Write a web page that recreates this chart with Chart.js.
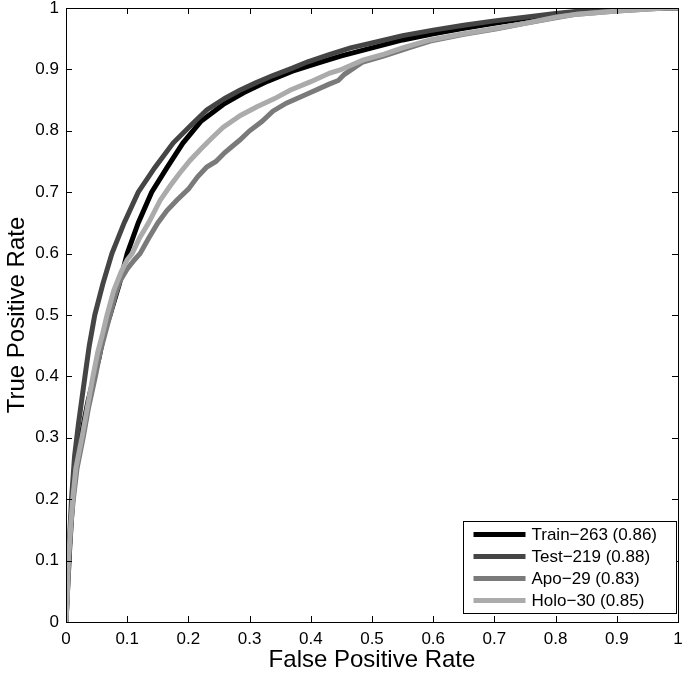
<!DOCTYPE html>
<html lang="en">
<head>
    <meta charset="UTF-8">
    <title>ROC curves</title>
    <script src="https://cdn.jsdelivr.net/npm/chart.js"></script>
    <style>
        body {
            margin: 0;
            padding: 0;
            background-color: #ffffff;
        }
        .container {
            width: 683px;
            height: 675px;
        }
    </style>
</head>
<body>
    <div class="container">
        <canvas id="myChart" width="683" height="675"></canvas>
    </div>

    <script>
        // series (false positive rate / true positive rate)
        var seriesNames = ['Train\u2212263 (0.86)', 'Test\u2212219 (0.88)', 'Apo\u221229 (0.83)', 'Holo\u221230 (0.85)'];
        var seriesColors = ['#000000', '#454545', '#7a7a7a', '#ababab'];

        var trainFpr = [0, 0.003, 0.006, 0.011, 0.017, 0.026, 0.036, 0.046, 0.054, 0.062, 0.072, 0.087, 0.1, 0.118, 0.14, 0.165, 0.191, 0.22, 0.257, 0.29, 0.33, 0.37, 0.41, 0.45, 0.5, 0.55, 0.6, 0.65, 0.7, 0.75, 0.8, 0.85, 0.9, 1];
        var trainTpr = [0, 0.06, 0.12, 0.2, 0.26, 0.31, 0.36, 0.4, 0.43, 0.47, 0.5, 0.55, 0.6, 0.65, 0.7, 0.74, 0.78, 0.815, 0.843, 0.862, 0.881, 0.897, 0.91, 0.922, 0.935, 0.948, 0.958, 0.967, 0.975, 0.983, 0.99, 0.995, 1, 1];

        var testFpr = [0, 0.002, 0.005, 0.009, 0.014, 0.02, 0.031, 0.038, 0.047, 0.06, 0.075, 0.095, 0.118, 0.145, 0.175, 0.205, 0.23, 0.26, 0.284, 0.31, 0.338, 0.37, 0.394, 0.43, 0.465, 0.5, 0.55, 0.6, 0.65, 0.7, 0.75, 0.8, 0.85, 0.89, 1];
        var testTpr = [0, 0.06, 0.12, 0.2, 0.27, 0.32, 0.4, 0.45, 0.5, 0.55, 0.6, 0.65, 0.7, 0.74, 0.78, 0.81, 0.834, 0.853, 0.866, 0.878, 0.89, 0.902, 0.912, 0.924, 0.935, 0.943, 0.955, 0.964, 0.972, 0.979, 0.985, 0.991, 0.996, 1, 1];

        var apoFpr = [0, 0.002, 0.004, 0.008, 0.012, 0.018, 0.028, 0.037, 0.048, 0.056, 0.064, 0.072, 0.08, 0.088, 0.1, 0.112, 0.121, 0.135, 0.15, 0.165, 0.181, 0.2, 0.215, 0.23, 0.245, 0.26, 0.284, 0.3, 0.32, 0.338, 0.36, 0.394, 0.43, 0.445, 0.455, 0.47, 0.485, 0.52, 0.56, 0.595, 0.65, 0.704, 0.75, 0.8, 0.835, 0.9, 0.98, 1];
        var apoTpr = [0, 0.04, 0.1, 0.16, 0.2, 0.25, 0.3, 0.35, 0.4, 0.44, 0.47, 0.5, 0.53, 0.555, 0.575, 0.59, 0.6, 0.625, 0.65, 0.67, 0.687, 0.705, 0.725, 0.741, 0.75, 0.765, 0.785, 0.8, 0.815, 0.832, 0.845, 0.86, 0.876, 0.882, 0.892, 0.902, 0.912, 0.922, 0.935, 0.946, 0.957, 0.966, 0.975, 0.984, 0.99, 0.995, 1, 1];

        var holoFpr = [0, 0.002, 0.004, 0.008, 0.011, 0.016, 0.026, 0.035, 0.044, 0.052, 0.06, 0.067, 0.078, 0.09, 0.1, 0.108, 0.12, 0.135, 0.154, 0.17, 0.185, 0.203, 0.22, 0.24, 0.257, 0.285, 0.312, 0.34, 0.366, 0.4, 0.431, 0.448, 0.485, 0.52, 0.55, 0.595, 0.65, 0.704, 0.75, 0.8, 0.835, 0.9, 0.98, 1];
        var holoTpr = [0, 0.04, 0.1, 0.16, 0.2, 0.25, 0.3, 0.35, 0.4, 0.44, 0.47, 0.5, 0.54, 0.57, 0.59, 0.6, 0.625, 0.65, 0.687, 0.71, 0.73, 0.752, 0.77, 0.79, 0.806, 0.825, 0.839, 0.852, 0.866, 0.88, 0.894, 0.899, 0.915, 0.925, 0.935, 0.948, 0.958, 0.967, 0.975, 0.985, 0.99, 0.995, 1, 1];

        var xTickLabels = ['0', '0.1', '0.2', '0.3', '0.4', '0.5', '0.6', '0.7', '0.8', '0.9', '1'];
        var yTickLabels = ['0', '0.1', '0.2', '0.3', '0.4', '0.5', '0.6', '0.7', '0.8', '0.9', '1'];

        function toPoints(xs, ys) {
            var pts = [];
            for (var i = 0; i < xs.length; i++) {
                pts.push({ x: xs[i], y: ys[i] });
            }
            return pts;
        }

        var allFpr = [trainFpr, testFpr, apoFpr, holoFpr];
        var allTpr = [trainTpr, testTpr, apoTpr, holoTpr];
        var datasets = [];
        for (var k = 0; k < seriesNames.length; k++) {
            datasets.push({
                label: seriesNames[k],
                data: toPoints(allFpr[k], allTpr[k]),
                showLine: true,
                borderColor: seriesColors[k],
                backgroundColor: seriesColors[k],
                borderWidth: 5,
                pointRadius: 0,
                tension: 0,
                order: seriesNames.length - k
            });
        }

        // box, inward ticks on all four sides and the legend inside the axes
        var matlabBox = {
            id: 'matlabBox',
            afterDatasetsDraw: function(chart) {
                var ctx = chart.ctx;
                var a = chart.chartArea;
                var xs = chart.scales.x, ys = chart.scales.y;
                ctx.save();
                ctx.strokeStyle = '#000';
                ctx.lineWidth = 1;
                ctx.beginPath();
                xs.ticks.forEach(function(t) {
                    var px = Math.round(xs.getPixelForValue(t.value)) + 0.5;
                    ctx.moveTo(px, a.bottom); ctx.lineTo(px, a.bottom - 6);
                    ctx.moveTo(px, a.top); ctx.lineTo(px, a.top + 6);
                });
                ys.ticks.forEach(function(t) {
                    var py = Math.round(ys.getPixelForValue(t.value)) + 0.5;
                    ctx.moveTo(a.left, py); ctx.lineTo(a.left + 6, py);
                    ctx.moveTo(a.right, py); ctx.lineTo(a.right - 6, py);
                });
                ctx.stroke();
                ctx.strokeRect(Math.round(a.left) + 0.5, Math.round(a.top) + 0.5,
                    Math.round(a.right - a.left), Math.round(a.bottom - a.top));

                // legend
                var lw = 213, lh = 92;
                var lx = Math.round(a.right) - 215 + 0.5, ly = Math.round(a.bottom) - 101 + 0.5;
                ctx.fillStyle = '#fff';
                ctx.fillRect(lx, ly, lw, lh);
                ctx.strokeRect(lx, ly, lw, lh);
                ctx.font = '17px "Liberation Sans", Arial, sans-serif';
                ctx.textBaseline = 'middle';
                chart.data.datasets.forEach(function(ds, i) {
                    var rowY = ly + 13 + i * 22;
                    ctx.strokeStyle = ds.borderColor;
                    ctx.lineWidth = 5;
                    ctx.beginPath();
                    ctx.moveTo(lx + 10, rowY);
                    ctx.lineTo(lx + 62, rowY);
                    ctx.stroke();
                    ctx.fillStyle = '#000';
                    ctx.fillText(ds.label, lx + 68, rowY + 1);
                });
                ctx.restore();
            }
        };

        var ctx = document.getElementById('myChart').getContext('2d');
        var myChart = new Chart(ctx, {
            type: 'scatter',
            data: { datasets: datasets },
            options: {
                responsive: false,
                animation: false,
                layout: { padding: { top: 8, right: 5, left: 0, bottom: 0 } },
                plugins: {
                    legend: { display: false },
                    tooltip: { enabled: false }
                },
                scales: {
                    x: {
                        type: 'linear',
                        min: 0,
                        max: 1,
                        grid: { display: false, drawTicks: false },
                        border: { display: false },
                        ticks: {
                            stepSize: 0.1,
                            color: '#000',
                            padding: 7,
                            maxRotation: 0,
                            font: { family: '"Liberation Sans", Arial, sans-serif', size: 17 },
                            callback: function(value, index) { return xTickLabels[index]; }
                        },
                        title: {
                            display: true,
                            text: 'False Positive Rate',
                            color: '#000',
                            font: { family: '"Liberation Sans", Arial, sans-serif', size: 24 },
                            padding: { top: 0, bottom: 0 }
                        },
                        afterFit: function(scale) {
                            scale.height = 53;
                            scale.paddingLeft = 0;
                            scale.paddingRight = 0;
                        }
                    },
                    y: {
                        type: 'linear',
                        min: 0,
                        max: 1,
                        grid: { display: false, drawTicks: false },
                        border: { display: false },
                        ticks: {
                            stepSize: 0.1,
                            color: '#000',
                            padding: 7,
                            font: { family: '"Liberation Sans", Arial, sans-serif', size: 17 },
                            callback: function(value, index) { return yTickLabels[index]; }
                        },
                        title: {
                            display: true,
                            text: 'True Positive Rate',
                            color: '#000',
                            font: { family: '"Liberation Sans", Arial, sans-serif', size: 24 },
                            padding: { top: 3, bottom: 0 }
                        },
                        afterFit: function(scale) {
                            scale.width = 66;
                            scale.paddingTop = 0;
                            scale.paddingBottom = 0;
                        }
                    }
                }
            },
            plugins: [matlabBox]
        });
    </script>
</body>
</html>
